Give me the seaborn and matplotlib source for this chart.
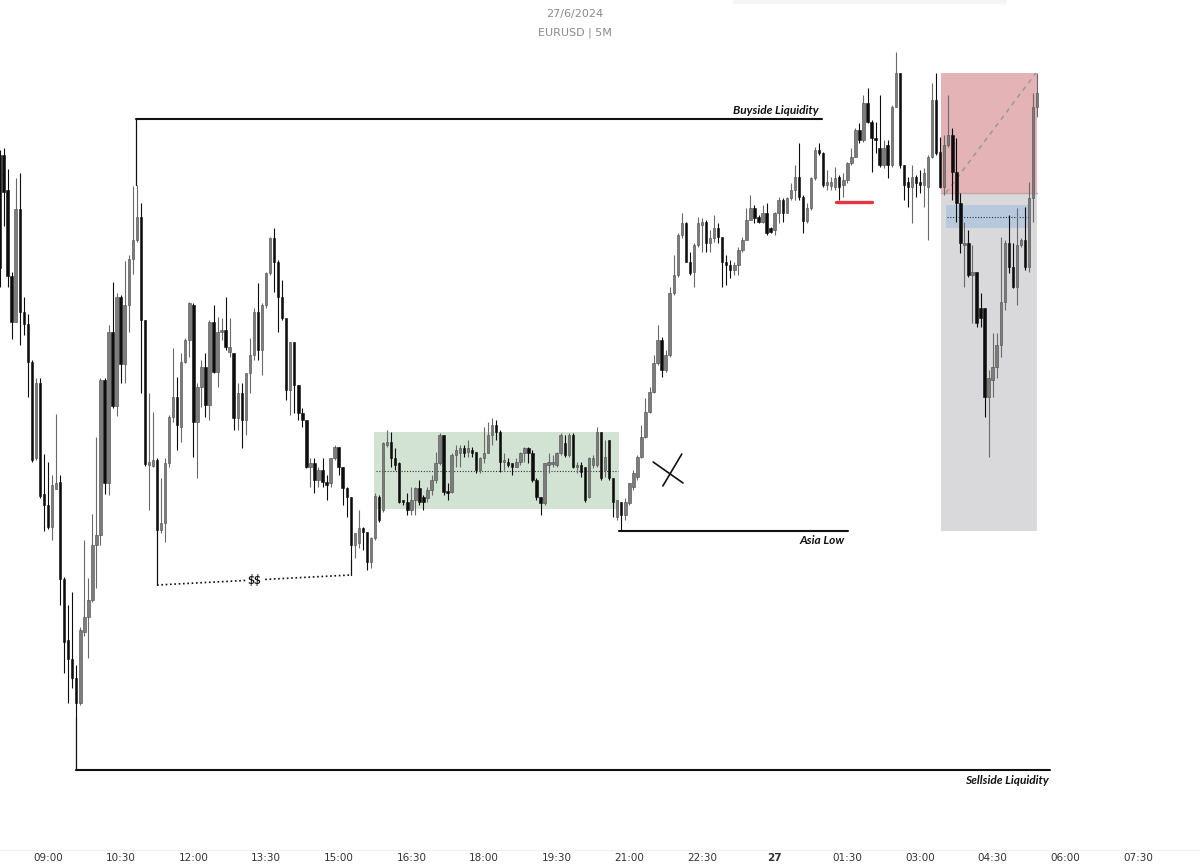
import numpy as np
import pandas as pd
import matplotlib
matplotlib.use("Agg")
import matplotlib.pyplot as plt
import seaborn as sns
from matplotlib.patches import Rectangle

# EURUSD 5M, 27/6/2024
# prices are stored as points (0.00001) below the REF level
REF = 1.07380
PT = 1e-5

# first candle is 08:00, 09:00 is candle number 0
opens = [
    155, 155, 190, 276, 322, 209, 312, 324, 362, 458, 383, 494,
    505, 527, 489, 482, 579, 640, 659, 678, 703, 632, 617, 600,
    545, 535, 380, 483, 332, 406, 297, 364, 305, 259, 240, 217,
    320, 465, 466, 460, 530, 523, 463, 417, 397, 427, 362, 340,
    305, 422, 387, 367, 405, 322, 372, 332, 330, 352, 353, 418,
    393, 420, 373, 355, 312, 350, 305, 273, 238, 262, 297, 318,
    390, 342, 385, 413, 420, 467, 463, 480, 470, 482, 483, 458,
    447, 467, 488, 497, 545, 543, 528, 532, 562, 538, 497, 510,
    445, 442, 458, 463, 500, 502, 510, 500, 488, 497, 498, 490,
    480, 463, 435, 492, 492, 455, 453,
    448, 452, 450, 452, 470, 458, 453, 435, 425, 432, 462, 462,
    463, 467, 462, 453, 448, 453, 480, 497, 503, 465, 464, 465,
    453, 443, 455, 435, 467, 465, 467, 497, 465, 465, 432, 470,
    440, 478, 517, 502, 515, 503, 487, 477, 457, 437, 412, 392,
    363, 340, 370,
    355, 293, 275, 235, 223, 262, 272, 245, 225, 222, 243, 238,
    228, 237, 262, 265, 270, 265, 250, 240, 220, 208, 217, 222,
    213, 228, 230, 213, 200, 213, 198, 190, 177, 197, 221, 208,
    178, 150, 153, 185, 186, 187, 177, 185, 180, 163, 157, 130,
    140, 103, 122, 138, 148, 165, 145, 165, 107, 73, 165, 182,
    187, 177, 182, 185, 187, 157, 100, 152, 187, 145, 135, 172,
    203, 245, 243, 275, 272, 308, 308, 397, 380, 367, 345, 302,
    243, 267, 287, 245, 240, 267, 198, 107,
]
highs = [
    150, 148, 169, 272, 178, 173, 297, 314, 360, 378, 378, 454,
    462, 475, 414, 475, 577, 605, 592, 665, 627, 540, 578, 514,
    437, 378, 378, 325, 282, 293, 295, 261, 255, 186, 185, 203,
    320, 393, 412, 458, 478, 458, 415, 348, 377, 353, 338, 302,
    303, 383, 360, 353, 320, 305, 317, 318, 297, 318, 353, 383,
    383, 373, 338, 308, 283, 303, 272, 237, 228, 260, 280, 318,
    342, 342, 385, 408, 420, 458, 458, 467, 458, 475, 458, 445,
    447, 467, 487, 497, 533, 510, 527, 532, 537, 493, 495, 442,
    430, 432, 448, 462, 500, 493, 487, 487, 480, 495, 487, 475,
    452, 433, 435, 483, 453, 445, 445,
    445, 440, 447, 452, 457, 427, 422, 418, 420, 430, 453, 458,
    463, 458, 452, 447, 447, 450, 478, 497, 463, 453, 455, 452,
    433, 435, 433, 433, 462, 462, 467, 457, 455, 427, 432, 440,
    440, 478, 500, 502, 498, 483, 470, 455, 425, 398, 387, 355,
    325, 337, 350,
    287, 255, 233, 213, 222, 252, 243, 217, 218, 220, 230, 215,
    223, 237, 255, 260, 262, 247, 237, 208, 195, 205, 215, 205,
    203, 227, 212, 197, 198, 197, 183, 165, 143, 195, 203, 177,
    147, 143, 152, 170, 177, 167, 175, 173, 162, 148, 128, 123,
    95, 88, 120, 122, 95, 140, 140, 105, 52, 73, 165, 177,
    165, 175, 170, 168, 155, 83, 73, 137, 135, 95, 128, 138,
    193, 222, 230, 245, 272, 293, 308, 370, 333, 333, 237, 240,
    215, 243, 208, 238, 207, 182, 93, 73,
]
lows = [
    287, 226, 287, 339, 322, 345, 335, 397, 462, 460, 498, 531,
    529, 540, 489, 605, 673, 703, 688, 717, 705, 636, 658, 602,
    588, 545, 494, 495, 408, 416, 383, 383, 332, 274, 242, 393,
    466, 510, 467, 531, 533, 542, 467, 422, 450, 442, 363, 357,
    457, 478, 407, 417, 420, 373, 387, 340, 350, 357, 430, 430,
    448, 435, 393, 360, 360, 375, 308, 275, 292, 332, 320, 400,
    415, 413, 420, 427, 468, 487, 493, 487, 487, 500, 487, 460,
    475, 505, 517, 560, 558, 548, 550, 570, 568, 540, 522, 512,
    447, 467, 470, 503, 505, 515, 515, 515, 505, 510, 502, 495,
    483, 465, 495, 500, 493, 467, 467,
    457, 457, 457, 473, 473, 463, 453, 445, 440, 472, 470, 467,
    475, 467, 465, 462, 463, 482, 500, 515, 505, 473, 467, 467,
    455, 457, 457, 468, 473, 477, 502, 498, 468, 467, 480, 477,
    480, 517, 520, 531, 520, 505, 490, 480, 458, 438, 413, 393,
    365, 377, 372,
    357, 295, 277, 238, 262, 275, 287, 247, 252, 252, 252, 242,
    243, 287, 285, 278, 275, 275, 252, 240, 220, 223, 223, 223,
    235, 233, 235, 223, 222, 213, 200, 200, 200, 233, 223, 210,
    180, 155, 187, 190, 190, 190, 200, 197, 183, 165, 157, 143,
    142, 123, 172, 153, 167, 168, 178, 167, 107, 168, 200, 207,
    223, 197, 193, 207, 240, 158, 155, 188, 195, 147, 200, 222,
    253, 287, 277, 323, 327, 327, 417, 457, 397, 378, 357, 310,
    273, 288, 305, 247, 270, 272, 222, 117,
]
closes = [
    268, 192, 276, 322, 209, 312, 324, 362, 460, 383, 496, 505,
    527, 485, 483, 579, 642, 659, 678, 703, 630, 617, 600, 545,
    535, 380, 483, 332, 406, 297, 364, 305, 259, 240, 217, 320,
    464, 462, 460, 530, 523, 463, 417, 397, 425, 362, 340, 303,
    422, 387, 367, 405, 322, 372, 332, 330, 347, 347, 418, 393,
    420, 373, 355, 312, 350, 305, 273, 238, 262, 297, 318, 390,
    342, 385, 413, 420, 467, 463, 480, 470, 482, 485, 458, 447,
    467, 488, 497, 545, 533, 528, 532, 562, 538, 496, 520, 443,
    442, 458, 465, 502, 502, 510, 500, 488, 502, 502, 490, 480,
    463, 435, 492, 493, 455, 450, 448,
    453, 448, 453, 470, 458, 453, 435, 425, 432, 462, 460, 465,
    467, 462, 453, 448, 453, 480, 497, 503, 463, 462, 462, 453,
    435, 455, 435, 467, 465, 472, 500, 458, 458, 432, 478, 457,
    478, 502, 500, 515, 502, 483, 473, 457, 437, 412, 392, 363,
    340, 370, 355,
    293, 275, 235, 223, 262, 273, 245, 223, 222, 243, 238, 228,
    237, 262, 265, 270, 265, 250, 240, 220, 208, 218, 222, 213,
    233, 232, 213, 200, 213, 198, 190, 177, 197, 221, 208, 178,
    150, 153, 185, 182, 182, 178, 187, 180, 163, 157, 130, 140,
    103, 122, 138, 140, 165, 148, 165, 107, 73, 165, 185, 187,
    177, 183, 185, 173, 157, 100, 153, 187, 145, 135, 172, 203,
    243, 243, 275, 272, 323, 318, 397, 378, 367, 345, 302, 243,
    267, 287, 245, 240, 267, 198, 107, 93,
]

tick_labels = ["09:00", "10:30", "12:00", "13:30", "15:00", "16:30", "18:00", "19:30",
               "21:00", "22:30", "27", "01:30", "03:00", "04:30", "06:00", "07:30"]

# levels marked on the chart (points below REF)
buyside = 119
sellside = 770
asia_low = 531
ss_left, ss_right = 585, 575
asia_range = (432, 509)
asia_mid = 471
sl_zone = (73, 193)
tp_zone = (193, 531)
fvg = (205, 228)
fvg_mid = 217
red_level = 202


def px(p):
    return REF - np.asarray(p) * PT


df = pd.DataFrame({"open": opens, "high": highs, "low": lows, "close": closes})
df = df.apply(px)
df["high"] = df[["open", "high", "close"]].max(axis=1)
df["low"] = df[["open", "low", "close"]].min(axis=1)
df["x"] = np.arange(len(df)) - 12
df["bull"] = df["close"] >= df["open"]

sns.set_theme(style="white")
plt.rcParams["font.family"] = ["Liberation Sans Narrow", "DejaVu Sans"]
plt.rcParams["text.parse_math"] = False

fig = plt.figure(figsize=(12, 8.68), dpi=100)
ax = fig.add_axes([0, 18 / 868, 1, 850 / 868])
ax.set_xlim(-11.89, 285.36)
ax.set_ylim(REF - 850 * PT, REF)

# ---- zones ----
ax.add_patch(Rectangle((80.8, px(asia_range[1])), 141.4 - 80.8,
                       (asia_range[1] - asia_range[0]) * PT, color="#d3e3d3", zorder=0.5, lw=0))
ax.plot([81.2, 141.2], [px(asia_mid)] * 2, ls=(0, (1, 1.5)), color="#333333", lw=0.8, zorder=1)

ax.add_patch(Rectangle((221.2, px(sl_zone[1])), 23.8, (sl_zone[1] - sl_zone[0]) * PT,
                       facecolor="#e3b3b6", edgecolor="none", zorder=0.5))
ax.add_patch(Rectangle((221.2, px(tp_zone[1])), 23.8, (tp_zone[1] - tp_zone[0]) * PT,
                       facecolor="#d9d9db", edgecolor="none", zorder=0.5))
ax.plot([221.2, 245.0], [px(sl_zone[1])] * 2, color="#c9a3a6", lw=1, zorder=0.6)
ax.add_patch(Rectangle((222.4, px(fvg[1])), 20.8, (fvg[1] - fvg[0]) * PT,
                       facecolor="#b9c9dd", edgecolor="none", zorder=0.7))
ax.plot([222.6, 243.0], [px(fvg_mid)] * 2, ls=(0, (1, 1.5)), color="#333333", lw=0.8, zorder=0.8)
ax.plot([222.4, 244.7], [px(sl_zone[1]), px(sl_zone[0])], ls=(0, (3, 3)),
        color="#999999", lw=1.1, zorder=1)

# ---- candles ----
bull = df[df["bull"]]
bear = df[~df["bull"]]
for part, body, edge, wick in [(bull, "#7c7c7c", "#4a4a4a", "#6a6a6a"),
                               (bear, "#0d0d0d", "#0d0d0d", "#0d0d0d")]:
    ax.vlines(part["x"], part["low"], part["high"], color=wick, lw=0.8, zorder=2)
    height = (part["close"] - part["open"]).abs().clip(lower=1.5 * PT)
    bottom = part[["open", "close"]].min(axis=1)
    ax.bar(part["x"], height, bottom=bottom, width=0.6, color=body,
           edgecolor=edge, linewidth=0.4, zorder=3)

# ---- liquidity lines ----
lab = dict(ha="right", va="center", fontsize=8.6, fontweight="bold", style="italic",
           family="Lato", color="#111111")
ax.plot([21.8, 191.7], [px(buyside)] * 2, color="#111111", lw=1.5, zorder=4)
ax.plot([21.8, 21.8], [px(buyside), df.loc[df["x"] == 22, "high"].iloc[0]], color="#111111", lw=0.9, zorder=4)
ax.text(191.0, px(111), "Buyside Liquidity", **lab)

ax.plot([6.9, 248.2], [px(sellside)] * 2, color="#111111", lw=1.5, zorder=4)
ax.plot([6.9, 6.9], [px(sellside), df.loc[df["x"] == 7, "low"].iloc[0]], color="#111111", lw=0.9, zorder=4)
ax.text(248.0, px(780), "Sellside Liquidity", **lab)

ax.plot([141.4, 198.2], [px(asia_low)] * 2, color="#111111", lw=1.5, zorder=4)
ax.text(197.2, px(541), "Asia Low", **lab)

# sell-side pool between the two lows
ax.plot([27, 75], [px(ss_left), px(ss_right)], ls=(0, (1, 1.6)), color="#111111", lw=1.2, zorder=4)
ax.plot([27, 27], [px(ss_left), df.loc[df["x"] == 27, "low"].iloc[0]], color="#111111", lw=0.9, zorder=4)
ax.plot([75, 75], [px(ss_right), df.loc[df["x"] == 75, "low"].iloc[0]], color="#111111", lw=0.9, zorder=4)
ax.text(51.2, px(580), "$$", ha="center", va="center", fontsize=8.5, fontweight="bold",
        family="Lato", color="#111111", zorder=5,
        bbox=dict(facecolor="white", edgecolor="none", pad=1.5))

# invalidation cross and red level
ax.plot([149.9, 157.3], [px(462), px(483)], color="#111111", lw=1.2, zorder=4)
ax.plot([152.3, 157.0], [px(486), px(454)], color="#111111", lw=1.2, zorder=4)
ax.plot([195.2, 204.1], [px(red_level)] * 2, color="#e3343f", lw=2.4, zorder=4,
        solid_capstyle="round")

# ---- axes ----
ax.set_xticks(np.arange(len(tick_labels)) * 18)
ax.set_xticklabels(tick_labels)
ax.tick_params(axis="x", length=0, pad=2.5, labelsize=7.5, colors="#333333")
ax.get_xticklabels()[10].set_fontweight("bold")
ax.set_yticks([])
for s in ["top", "left", "right"]:
    ax.spines[s].set_visible(False)
ax.spines["bottom"].set_color("#f0f0f0")
ax.spines["bottom"].set_linewidth(0.8)

fig.text(575 / 1200, 1 - 14 / 868, "27/6/2024", ha="center", va="center", fontsize=8, color="#8a8a8a")
fig.text(575 / 1200, 1 - 33 / 868, "EURUSD | 5M", ha="center", va="center", fontsize=8, color="#8a8a8a")
fig.patches.append(Rectangle((733 / 1200, 1 - 3 / 868), 272 / 1200, 3 / 868,
                             transform=fig.transFigure, color="#f5f5f5", zorder=0))

fig.savefig("out.png", dpi=100, facecolor="white")
